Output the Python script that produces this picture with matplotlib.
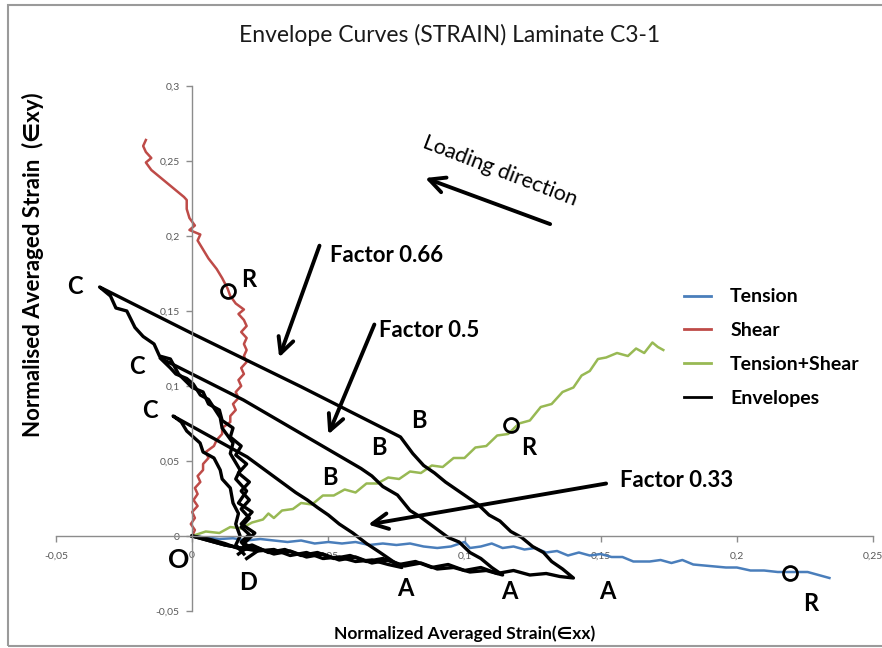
import matplotlib
matplotlib.use("Agg")
import matplotlib.pyplot as plt
from matplotlib.patches import Rectangle

plt.rcParams['font.family'] = ['Lato', 'DejaVu Sans']

# ---- data ----
tension_x = [0, 0.005, 0.01, 0.015, 0.02, 0.025, 0.03, 0.035, 0.04, 0.045, 0.05, 0.055,
             0.06, 0.065, 0.07, 0.075, 0.08, 0.085, 0.09, 0.095, 0.1, 0.102, 0.106, 0.11,
             0.114, 0.118, 0.122, 0.126, 0.13, 0.134, 0.138, 0.142, 0.146, 0.15, 0.154,
             0.158, 0.162, 0.168, 0.172, 0.176, 0.18, 0.184, 0.19, 0.196, 0.2, 0.205, 0.21,
             0.215, 0.22, 0.226, 0.23, 0.234]
tension_y = [0, -0.001, -0.002, -0.0015, -0.003, -0.002, -0.003, -0.004, -0.003, -0.005,
             -0.004, -0.005, -0.004, -0.006, -0.005, -0.006, -0.005, -0.007, -0.008, -0.007,
             -0.004, -0.008, -0.007, -0.005, -0.008, -0.007, -0.009, -0.008, -0.011, -0.010,
             -0.013, -0.011, -0.013, -0.012, -0.014, -0.014, -0.017, -0.017, -0.016, -0.018,
             -0.016, -0.019, -0.020, -0.021, -0.021, -0.023, -0.023, -0.024, -0.024, -0.024,
             -0.026, -0.028]

shear_x = [0, 0.001, -0.0005, 0.001, 0.0, 0.002, 0.0005, 0.002, 0.001, 0.003, 0.002, 0.004,
           0.004, 0.006, 0.005, 0.008, 0.009, 0.011, 0.011, 0.014, 0.014, 0.016, 0.015, 0.017,
           0.016, 0.018, 0.017, 0.019, 0.018, 0.020, 0.019, 0.020, 0.019, 0.020, 0.018, 0.020,
           0.019, 0.017, 0.019, 0.016, 0.014, 0.013, 0.011, 0.009, 0.006, 0.004, 0.002, 0.003,
           -0.001, 0.001, -0.001, -0.002, -0.002, -0.003, -0.007, -0.011, -0.015, -0.017,
           -0.015, -0.017, -0.018, -0.017]
shear_y = [0, 0.004, 0.008, 0.012, 0.016, 0.02, 0.024, 0.028, 0.032, 0.036, 0.040, 0.044,
           0.048, 0.052, 0.056, 0.060, 0.064, 0.068, 0.072, 0.076, 0.080, 0.084, 0.088, 0.092,
           0.096, 0.100, 0.104, 0.108, 0.112, 0.116, 0.120, 0.124, 0.128, 0.132, 0.136, 0.140,
           0.144, 0.148, 0.151, 0.155, 0.160, 0.165, 0.172, 0.178, 0.185, 0.191, 0.197, 0.201,
           0.204, 0.207, 0.212, 0.218, 0.224, 0.226, 0.232, 0.238, 0.244, 0.249, 0.252, 0.256,
           0.260, 0.264]

ts_x = [0, 0.005, 0.01, 0.014, 0.018, 0.022, 0.026, 0.028, 0.03, 0.033, 0.037, 0.04, 0.044,
        0.048, 0.052, 0.056, 0.06, 0.064, 0.068, 0.072, 0.076, 0.08, 0.084, 0.088, 0.092,
        0.096, 0.1, 0.104, 0.108, 0.112, 0.116, 0.12, 0.124, 0.128, 0.132, 0.136, 0.14, 0.143,
        0.146, 0.149, 0.152, 0.156, 0.16, 0.163, 0.166, 0.169, 0.171, 0.173]
ts_y = [0, 0.003, 0.002, 0.006, 0.005, 0.009, 0.011, 0.015, 0.012, 0.017, 0.018, 0.022,
        0.021, 0.027, 0.027, 0.031, 0.029, 0.035, 0.035, 0.039, 0.038, 0.043, 0.042, 0.047,
        0.046, 0.052, 0.052, 0.059, 0.060, 0.067, 0.068, 0.075, 0.077, 0.086, 0.088, 0.096,
        0.099, 0.107, 0.110, 0.118, 0.119, 0.122, 0.120, 0.125, 0.122, 0.129, 0.126, 0.124]

# envelope factor 0.66 : O -> bottom -> A -> B -> C -> D
env66_x = [0, 0.006, 0.012, 0.018, 0.022, 0.028, 0.034, 0.04, 0.046, 0.052, 0.058, 0.064,
           0.07, 0.076, 0.082, 0.088, 0.094, 0.1, 0.106, 0.112, 0.118, 0.124, 0.13, 0.135, 0.14,
           0.136, 0.132, 0.129, 0.125, 0.121, 0.117, 0.113, 0.109, 0.105, 0.101, 0.097, 0.093,
           0.089, 0.085, 0.081, 0.0765, 0.04, 0.0, -0.034,
           -0.030, -0.028, -0.024, -0.021, -0.018, -0.014, -0.012, -0.008, -0.005, 0.0, 0.004,
           0.006, 0.010, 0.011, 0.015, 0.014, 0.018, 0.016, 0.020, 0.017, 0.021, 0.018, 0.021,
           0.018, 0.021, 0.018, 0.021, 0.018, 0.020, 0.017]
env66_y = [0, -0.003, -0.006, -0.008, -0.006, -0.011, -0.009, -0.013, -0.011, -0.015, -0.013,
           -0.017, -0.015, -0.019, -0.017, -0.021, -0.019, -0.023, -0.021, -0.025, -0.023,
           -0.026, -0.025, -0.027, -0.028,
           -0.022, -0.017, -0.011, -0.007, -0.001, 0.003, 0.010, 0.014, 0.021, 0.026, 0.031,
           0.036, 0.042, 0.047, 0.055, 0.066, 0.0995, 0.135, 0.166,
           0.160, 0.152, 0.150, 0.139, 0.133, 0.128, 0.120, 0.118, 0.108, 0.099, 0.096, 0.088,
           0.084, 0.077, 0.072, 0.066, 0.060, 0.054, 0.048, 0.042, 0.036, 0.030, 0.024, 0.018,
           0.012, 0.006, 0.001, -0.004, -0.008, -0.012]

env50_x = [0, 0.006, 0.012, 0.018, 0.024, 0.03, 0.036, 0.042, 0.048, 0.054, 0.06, 0.066,
           0.072, 0.078, 0.084, 0.09, 0.096, 0.102, 0.108, 0.114,
           0.110, 0.106, 0.102, 0.098, 0.094, 0.0838, 0.080, 0.0754, 0.070, 0.066, 0.062,
           0.0188, -0.0118,
           -0.008, -0.006, -0.002, 0.0004, 0.003, 0.006, 0.0103, 0.011, 0.015, 0.014, 0.0176,
           0.016, 0.020, 0.017, 0.022, 0.018, 0.023, 0.019, 0.024, 0.020]
env50_y = [0, -0.002, -0.005, -0.009, -0.008, -0.012, -0.010, -0.014, -0.012, -0.016, -0.014,
           -0.018, -0.016, -0.020, -0.018, -0.022, -0.021, -0.024, -0.023, -0.026,
           -0.021, -0.015, -0.011, -0.004, -0.001, 0.0127, 0.017, 0.0273, 0.033, 0.040, 0.045,
           0.0907, 0.1187,
           0.112, 0.108, 0.105, 0.1013, 0.094, 0.091, 0.079, 0.072, 0.062, 0.055, 0.044, 0.038,
           0.030, 0.022, 0.016, 0.008, 0.002, -0.005, -0.010, -0.015]

env33_x = [0, 0.006, 0.012, 0.018, 0.024, 0.03, 0.036, 0.042, 0.048, 0.054, 0.06, 0.066,
           0.072, 0.077,
           0.073, 0.069, 0.064, 0.059, 0.054, 0.05, 0.046, 0.0423, 0.038, 0.035, 0.0202, -0.007,
           -0.004, -0.002, 0.0029, 0.004, 0.008, 0.0103, 0.011, 0.014, 0.015, 0.017, 0.016,
           0.0176, 0.016, 0.019]
env33_y = [0, -0.003, -0.006, -0.008, -0.010, -0.009, -0.013, -0.011, -0.015, -0.014, -0.017,
           -0.016, -0.019, -0.021,
           -0.016, -0.011, -0.005, 0.002, 0.008, 0.014, 0.019, 0.024, 0.029, 0.033, 0.0527, 0.080,
           0.076, 0.070, 0.062, 0.056, 0.052, 0.044, 0.038, 0.032, 0.022, 0.015, 0.008,
           0.0, -0.006, -0.012]

x_ticks = [-0.05, 0, 0.05, 0.1, 0.15, 0.2, 0.25]
y_ticks = [-0.05, 0, 0.05, 0.1, 0.15, 0.2, 0.25, 0.3]

# failure points (R) on the three single-load curves
fail_x = [0.0132, 0.1169, 0.2195]
fail_y = [0.1633, 0.074, -0.0247]

fig = plt.figure(figsize=(8.82, 6.48), dpi=100)
ax = fig.add_axes([56 / 882, 37 / 648, 817 / 882, 525 / 648])

ax.plot(tension_x, tension_y, color='#4a7ebb', lw=1.8, label='Tension')
ax.plot(shear_x, shear_y, color='#be4b48', lw=1.8, label='Shear')
ax.plot(ts_x, ts_y, color='#98b954', lw=1.8, label='Tension+Shear')
ax.plot(env66_x, env66_y, color='black', lw=2.4, label='Envelopes')
ax.plot(env50_x, env50_y, color='black', lw=2.4)
ax.plot(env33_x, env33_y, color='black', lw=2.4)
ax.plot(fail_x, fail_y, 'o', ms=10, mfc='none', mec='black', mew=2)

ax.set_xlim(-0.05, 0.25)
ax.set_ylim(-0.05, 0.3)
ax.spines['left'].set_position(('data', 0))
ax.spines['bottom'].set_position(('data', 0))
ax.spines['top'].set_visible(False)
ax.spines['right'].set_visible(False)
for s in ['left', 'bottom']:
    ax.spines[s].set_color('#8c8c8c')
    ax.spines[s].set_linewidth(1)
ax.set_xticks(x_ticks)
ax.set_yticks(y_ticks)
ax.set_xticklabels([f"{v:g}".replace('.', ',') for v in x_ticks])
ax.set_yticklabels([f"{v:g}".replace('.', ',') for v in y_ticks])
ax.tick_params(axis='both', colors='#8c8c8c', labelcolor='#595959', labelsize=7.5,
               length=4, width=1)
ax.tick_params(axis='x', pad=7)
ax.tick_params(axis='y', pad=5)
ax.patch.set_visible(False)

# letters on the envelopes
bold = dict(fontsize=17, fontweight='bold', ha='center', va='center')
letters = [('C', -0.043, 0.166), ('C', -0.0202, 0.1127), ('C', -0.0154, 0.084),
           ('B', 0.0831, 0.0773), ('B', 0.0684, 0.0593), ('B', 0.0507, 0.0387),
           ('A', 0.0783, -0.0347), ('A', 0.1165, -0.0367), ('A', 0.1526, -0.0373),
           ('D', 0.0206, -0.0307), ('R', 0.0206, 0.1707), ('R', 0.1235, 0.0593),
           ('R', 0.2272, -0.0447)]
for t, x, y in letters:
    ax.text(x, y, t, **bold)
ax.text(-0.0051, -0.016, 'O', fontsize=19, fontweight='bold', ha='center', va='center')

arrow = dict(arrowstyle='->', lw=2.8, color='black', mutation_scale=28)
ax.annotate('', xy=(0.0316, 0.1173), xytext=(0.0471, 0.1953), arrowprops=arrow)
ax.annotate('', xy=(0.0496, 0.066), xytext=(0.0673, 0.1427), arrowprops=arrow)
ax.annotate('', xy=(0.0636, 0.0073), xytext=(0.153, 0.0353), arrowprops=arrow)
ax.annotate('', xy=(0.0846, 0.2393), xytext=(0.1324, 0.2073), arrowprops=arrow)
ax.text(0.0715, 0.1867, 'Factor 0.66', fontsize=16, fontweight='bold', ha='center', va='center')
ax.text(0.0871, 0.1367, 'Factor 0.5', fontsize=16, fontweight='bold', ha='center', va='center')
ax.text(0.178, 0.0367, 'Factor 0.33', fontsize=16, fontweight='bold', ha='center', va='center')
ax.text(0.1132, 0.243, 'Loading direction', fontsize=15.5, rotation=-21,
        ha='center', va='center', rotation_mode='anchor')

leg = ax.legend(loc='upper left', bbox_to_anchor=(666 / 882, 1 - 271 / 648),
                bbox_transform=fig.transFigure, frameon=False, handlelength=1.4,
                handletextpad=1.0, labelspacing=0.86, prop=dict(size=14, weight='bold'))
for h in leg.get_lines():
    h.set_linewidth(2)

fig.text(450 / 882, 1 - 35 / 648, 'Envelope Curves (STRAIN) Laminate C3-1',
         fontsize=16.5, ha='center', va='center', color='#1a1a1a')
fig.text(465 / 882, 1 - 634 / 648, 'Normalized Averaged Strain(\u2208xx)',
         fontsize=12.5, fontweight='bold', ha='center', va='center')
fig.text(33 / 882, 1 - 265 / 648, 'Normalised Averaged Strain  (\u2208xy)',
         fontsize=16, fontweight='bold', ha='center', va='center', rotation=90)

fig.add_artist(Rectangle((8 / 882, 2 / 648), 1.0, 641 / 648, transform=fig.transFigure,
                         fill=False, ec='#9a9a9a', lw=1.5))

fig.savefig('out.png', dpi=100)
